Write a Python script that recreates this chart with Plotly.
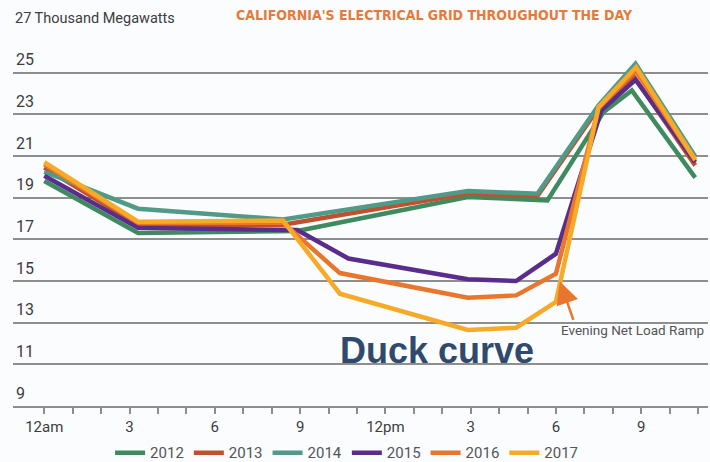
import plotly.graph_objects as go

# Hourly net load (thousand megawatts) on a typical spring day, by year.
# Each year keeps its own hour stamps where the curve bends.
hours_2012 = [0, 3.3, 8.9, 14.9, 17.7, 19.67, 20.67, 22.9]
mw_2012 = [19.8, 17.3, 17.4, 19.03, 18.87, 23.1, 24.15, 19.96]

hours_2013 = [0, 3.3, 8.4, 14.9, 17.35, 19.5, 20.75, 22.9]
mw_2013 = [20.45, 17.7, 17.7, 19.2, 19.08, 23.3, 24.8, 20.55]

hours_2014 = [0, 3.3, 8.4, 14.9, 17.35, 19.5, 20.8, 22.9]
mw_2014 = [20.25, 18.47, 17.95, 19.32, 19.19, 23.43, 25.43, 20.98]

hours_2015 = [0, 3.3, 8.9, 10.7, 14.9, 16.6, 18.0, 19.6, 20.8, 22.9]
mw_2015 = [20.05, 17.55, 17.45, 16.08, 15.08, 15.0, 16.31, 23.19, 24.66, 20.7]

hours_2016 = [0, 3.3, 8.4, 10.4, 14.9, 16.6, 18.0, 19.5, 20.8, 22.9]
mw_2016 = [20.6, 17.8, 17.8, 15.38, 14.2, 14.31, 15.35, 23.3, 25.1, 20.8]

hours_2017 = [0, 3.3, 8.4, 10.4, 14.9, 16.6, 18.0, 19.5, 20.82, 22.9]
mw_2017 = [20.7, 17.85, 17.9, 14.39, 12.65, 12.76, 14.0, 23.35, 25.27, 20.82]

years = ["2012", "2013", "2014", "2015", "2016", "2017"]
colors = ["#3f8a5f", "#c1502e", "#4f9a88", "#5a2d8c", "#e8762c", "#f6aa28"]

# Axis ticks
x_tick_vals = list(range(24))
x_tick_text = ["12am" if h == 0 else "12pm" if h == 12 else
               (str(h % 12) if h % 3 == 0 else "") for h in x_tick_vals]
y_tick_vals = [9, 11, 13, 15, 17, 19, 21, 23, 25]

series = [
    (hours_2012, mw_2012),
    (hours_2013, mw_2013),
    (hours_2014, mw_2014),
    (hours_2015, mw_2015),
    (hours_2016, mw_2016),
    (hours_2017, mw_2017),
]

fig = go.Figure()
for (hrs, vals), name, col in zip(series, years, colors):
    fig.add_trace(go.Scatter(
        x=hrs, y=vals, name=name, mode="lines",
        line=dict(color=col, width=4.5),
    ))

grid_col = "#8e8e8e"
label_font = "Roboto, Liberation Sans, Arial, sans-serif"

fig.update_layout(
    width=710, height=462,
    margin=dict(l=13, r=2, t=31, b=56, autoexpand=False),
    paper_bgcolor="#fafcfe",
    plot_bgcolor="#fafcfe",
    font=dict(family=label_font, color="#3d3d3d"),
    showlegend=True,
    legend=dict(
        orientation="h", x=0.48, xanchor="center", y=-0.125, yanchor="middle",
        font=dict(size=15, color="#555555", family=label_font),
        bgcolor="rgba(0,0,0,0)", itemwidth=30, tracegroupgap=0,
    ),
    xaxis=dict(
        range=[-1.1, 23.35],
        tickvals=x_tick_vals, ticktext=x_tick_text,
        showgrid=False, zeroline=False,
        showline=True, linecolor=grid_col, linewidth=2,
        ticks="outside", ticklen=6, tickwidth=1.5, tickcolor=grid_col,
        ticklabelstandoff=0,
        tickfont=dict(size=15, color="#3d3d3d"),
    ),
    yaxis=dict(
        range=[9, 27],
        tickvals=y_tick_vals,
        showgrid=True, gridcolor=grid_col, gridwidth=2,
        zeroline=False, showline=False, ticks="",
        ticklabelposition="inside", ticklabelshift=-13, ticklabelstandoff=0,
        tickfont=dict(size=16, color="#3d3d3d"),
    ),
)

# Unit label sitting where the 27 gridline would be
fig.add_annotation(
    xref="paper", x=0, xanchor="left", xshift=0,
    yref="y", y=27, yanchor="middle", yshift=13,
    text="27 Thousand Megawatts", showarrow=False,
    font=dict(size=14.5, color="#3d3d3d", family=label_font),
)

# Title
fig.add_annotation(
    xref="paper", x=(234 - 13) / 695, xanchor="left",
    yref="paper", y=1, yanchor="middle", yshift=16,
    text="<b>CALIFORNIA'S ELECTRICAL GRID THROUGHOUT THE DAY</b>",
    showarrow=False,
    font=dict(size=14, color="#e57a3a",
              family="Liberation Sans Narrow, DejaVu Sans Condensed, Arial Narrow, sans-serif"),
)

# Duck curve label
fig.add_annotation(
    xref="x", x=13.8, yref="y", y=11.65,
    text="<b>Duck curve</b>", showarrow=False,
    font=dict(size=36, color="#2f4a6d", family="Liberation Sans, Arial, sans-serif"),
)

# Evening ramp callout
fig.add_annotation(
    xref="x", x=18.1, xanchor="left", yref="y", y=12.63, yanchor="middle",
    text="Evening Net Load Ramp", showarrow=False,
    font=dict(size=13.5, color="#555555", family=label_font),
)
fig.add_annotation(
    xref="x", x=18.14, yref="y", y=14.98,
    text="", showarrow=True, arrowhead=2, arrowsize=1.8, arrowwidth=2.5,
    arrowcolor="#e8762c", ax=14, ay=40,
)

fig.write_html("out.html")
